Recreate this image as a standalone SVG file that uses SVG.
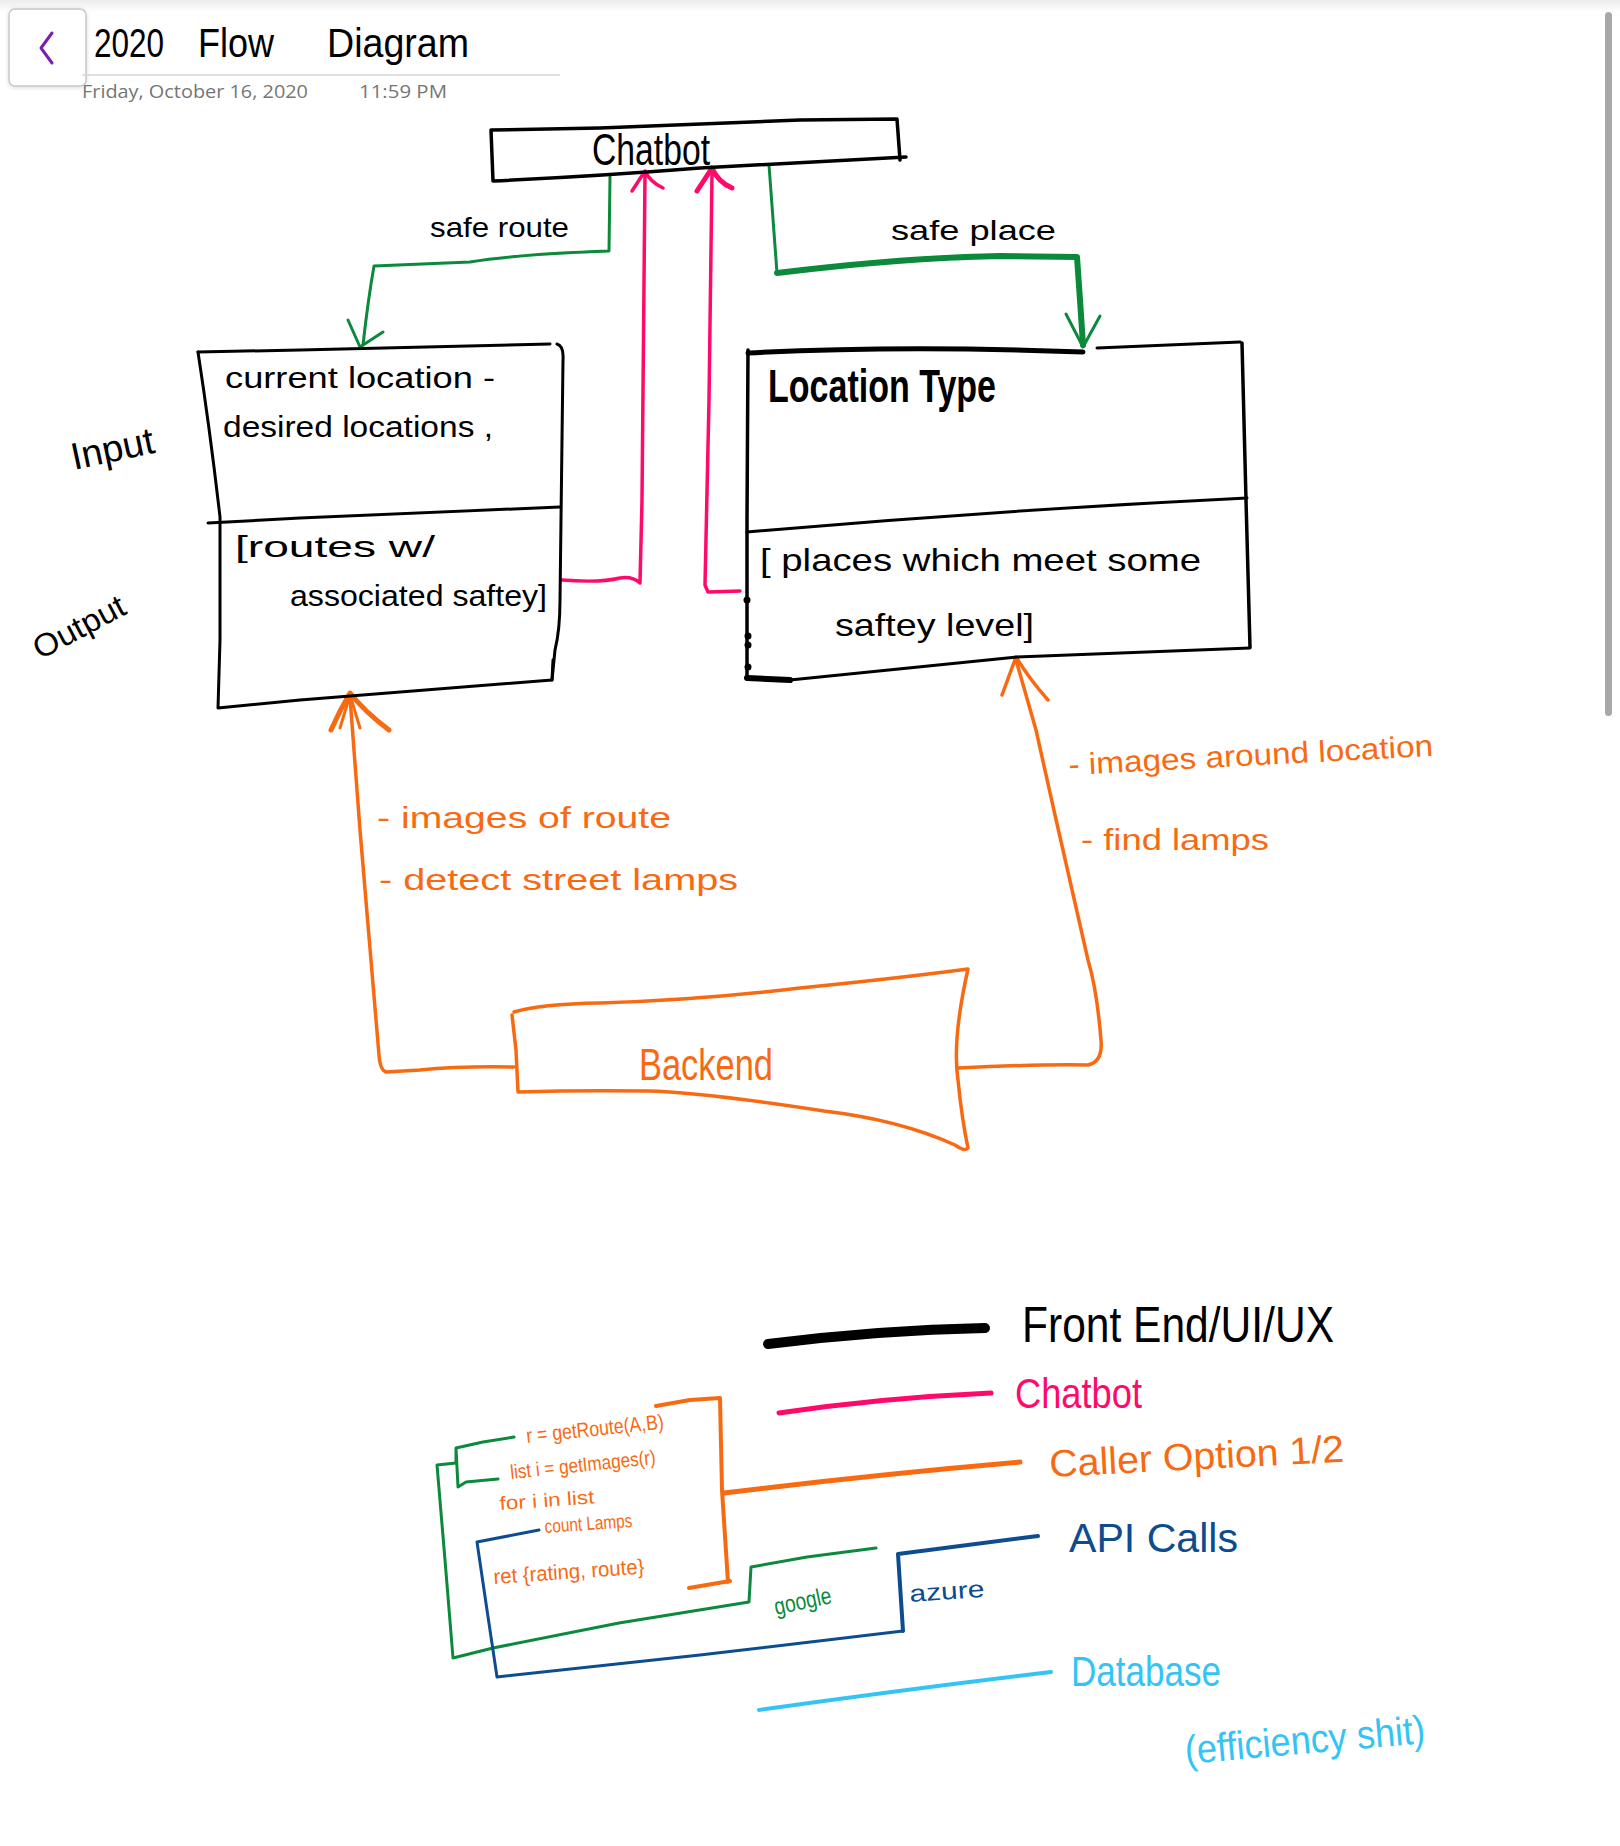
<svg xmlns="http://www.w3.org/2000/svg" width="1620" height="1846" viewBox="0 0 1620 1846">
<defs>
<linearGradient id="topfade" x1="0" y1="0" x2="0" y2="1"><stop offset="0" stop-color="#ececec"/><stop offset="1" stop-color="#ffffff"/></linearGradient>
<filter id="sh" x="-20%" y="-20%" width="140%" height="140%"><feDropShadow dx="0" dy="1" stdDeviation="2" flood-color="#000" flood-opacity="0.15"/></filter>
</defs>
<style>
.hw{font-family:"Liberation Sans","DejaVu Sans",sans-serif;}
.k{stroke:#000;fill:none;stroke-linecap:round;stroke-linejoin:round;}
.g{stroke:#0b8a3c;fill:none;stroke-linecap:round;stroke-linejoin:round;}
.p{stroke:#ff0a6a;fill:none;stroke-linecap:round;stroke-linejoin:round;}
.o{stroke:#f86a12;fill:none;stroke-linecap:round;stroke-linejoin:round;}
.b{stroke:#0d4c8f;fill:none;stroke-linecap:round;stroke-linejoin:round;}
.lb{stroke:#33c4f5;fill:none;stroke-linecap:round;stroke-linejoin:round;}
.tk{fill:#000;}
.tg{fill:#0b8a3c;}
.tp{fill:#ff0a6a;}
.to{fill:#f86a12;}
.tb{fill:#0d4c8f;}
.tl{fill:#33c4f5;}
</style>
<rect x="0" y="0" width="1620" height="1846" fill="#ffffff"/>
<rect x="0" y="0" width="1620" height="12" fill="url(#topfade)"/>
<rect x="1605" y="12" width="7" height="704" rx="3.5" fill="#a8a8a8"/>

<g id="header">
<rect x="9" y="9" width="77" height="77" rx="6" fill="#ffffff" stroke="#c8c8c8" stroke-width="1.5" filter="url(#sh)"/>
<path d="M52,33 L41,48 L52,63" fill="none" stroke="#7a1fb0" stroke-width="3" stroke-linecap="round" stroke-linejoin="round"/>
<text class="hw tk" y="57" font-size="40"><tspan x="94" textLength="70" lengthAdjust="spacingAndGlyphs">2020</tspan><tspan x="198" textLength="76" lengthAdjust="spacingAndGlyphs">Flow</tspan><tspan x="327" textLength="142" lengthAdjust="spacingAndGlyphs">Diagram</tspan></text>
<line x1="82" y1="75" x2="560" y2="75" stroke="#d4d4d4" stroke-width="1.5"/>
<text x="82" y="98" font-family="Segoe UI,'Open Sans','Noto Sans',sans-serif" font-size="18" fill="#767676" textLength="226" lengthAdjust="spacingAndGlyphs">Friday, October 16, 2020</text>
<text x="359" y="98" font-family="'Open Sans','Noto Sans',sans-serif" font-size="18" fill="#767676" textLength="88" lengthAdjust="spacingAndGlyphs">11:59 PM</text>
</g>

<g id="connectors">
<!-- safe route (green) -->
<path class="g" stroke-width="3" d="M610,177 L609,251 Q520,254 470,262 L374,266 Q368,300 363,345"/>
<path class="g" stroke-width="3" d="M348,320 L360,347 L383,332"/>
<!-- safe place (green) -->
<path class="g" stroke-width="3" d="M769,165 L777,273"/>
<path class="g" stroke-width="6" d="M777,273 Q900,258 1000,256 L1077,257 L1080,300 L1083,345"/>
<path class="g" stroke-width="3" d="M1066,314 L1083,347 L1100,316"/>
<!-- pink route -> chatbot -->
<path class="p" stroke-width="3.5" d="M562,580 Q600,583 620,578 Q632,576 640,583 L642,500 L645,174"/>
<path class="p" stroke-width="3.5" d="M632,191 L645,171 Q650,182 663,188"/>
<!-- pink place -> chatbot -->
<path class="p" stroke-width="3.5" d="M740,591 L708,592 L705,585 L709,400 L712,174"/>
<path class="p" stroke-width="5" d="M697,191 L712,168 Q718,182 732,188"/>
<!-- orange backend -> route box -->
<path class="o" stroke-width="3.5" d="M514,1067 Q460,1066 420,1070 L386,1072 Q380,1070 379,1055 L360,830 L350,697"/>
<path class="o" stroke-width="5" d="M331,730 Q340,710 350,693 Q365,712 389,730"/>
<path class="o" stroke-width="3" d="M340,728 L350,695 L360,728"/>
<!-- orange backend -> location box -->
<path class="o" stroke-width="3.5" d="M958,1068 Q1040,1064 1088,1065 Q1103,1062 1101,1040 Q1097,990 1088,960 Q1070,880 1055,815 L1036,730 L1016,660"/>
<path class="o" stroke-width="3.5" d="M1002,695 L1016,657 Q1030,680 1048,700"/>
</g>

<g id="chatbot">
<path class="k" stroke-width="3.5" d="M491,130 L600,128 Q700,124 800,120 L897,119 L900,160 M491,130 L493,181 Q600,176 700,168 L906,157"/>
<text class="hw tk" x="592" y="165" font-size="44" textLength="118" lengthAdjust="spacingAndGlyphs">Chatbot</text>
</g>

<g id="edge-labels">
<text class="hw tk" x="430" y="237" font-size="28" textLength="139" lengthAdjust="spacingAndGlyphs">safe route</text>
<text class="hw tk" x="891" y="240" font-size="28" textLength="165" lengthAdjust="spacingAndGlyphs">safe place</text>
</g>

<g id="route-box">
<path class="k" stroke-width="3" d="M198,352 L300,350 L550,344"/>
<path class="k" stroke-width="3" d="M198,352 Q210,430 220,517 L220,640 L218,708 L300,700 L552,680 L553,660"/>
<path class="k" stroke-width="3" d="M557,344 Q564,346 563,360 L561,520 L560,600 Q560,630 555,650 L552,680"/>
<path class="k" stroke-width="3" d="M208,523 L300,518 L560,507"/>
<text class="hw tk" x="225" y="388" font-size="30" textLength="270" lengthAdjust="spacingAndGlyphs">current  location -</text>
<text class="hw tk" x="223" y="437" font-size="30" textLength="270" lengthAdjust="spacingAndGlyphs">desired  locations ,</text>
<text class="hw tk" x="235" y="557" font-size="30" textLength="200" lengthAdjust="spacingAndGlyphs">[routes  w/</text>
<text class="hw tk" x="290" y="606" font-size="30" textLength="257" lengthAdjust="spacingAndGlyphs">associated  saftey]</text>
</g>

<g id="location-box">
<path class="k" stroke-width="5" d="M748,353 Q900,345 1083,352"/>
<path class="k" stroke-width="3" d="M1097,348 L1240,342"/>
<path class="k" stroke-width="3.5" d="M1242,343 L1246,500 L1250,647"/>
<path class="k" stroke-width="3.5" d="M748,350 L747,520 L747,677"/>
<path class="k" stroke-width="3" d="M747,532 Q1000,510 1247,498"/>
<path class="k" stroke-width="6" d="M747,678 L790,680"/>
<path class="k" stroke-width="3" d="M790,680 L1017,657 L1250,648"/>
<circle cx="747" cy="600" r="3.5" fill="#000"/>
<circle cx="748" cy="636" r="3.5" fill="#000"/>
<circle cx="748" cy="645" r="3.5" fill="#000"/>
<circle cx="748" cy="667" r="3.5" fill="#000"/>
<text class="hw tk" x="768" y="402" font-size="46" font-weight="bold" textLength="228" lengthAdjust="spacingAndGlyphs">Location Type</text>
<text class="hw tk" x="760" y="571" font-size="32" textLength="441" lengthAdjust="spacingAndGlyphs">[ places  which  meet  some</text>
<text class="hw tk" x="835" y="636" font-size="32" textLength="199" lengthAdjust="spacingAndGlyphs">saftey  level]</text>
</g>

<g id="io-labels">
<text class="hw tk" x="74" y="470" font-size="38" textLength="84" lengthAdjust="spacingAndGlyphs" transform="rotate(-12 74 470)">Input</text>
<text class="hw tk" x="40" y="660" font-size="32" textLength="100" lengthAdjust="spacingAndGlyphs" transform="rotate(-28 40 660)">Output</text>
</g>

<g id="backend">
<path class="o" stroke-width="3.5" d="M514,1012 Q540,1004 600,1003 Q700,1000 800,988 Q900,978 968,969 Q952,1040 958,1080 Q962,1120 968,1148 Q965,1152 955,1145 Q900,1120 824,1111 Q700,1092 648,1091 Q580,1090 518,1092 L516,1050 L512,1015"/>
<text class="hw to" x="639" y="1080" font-size="44" textLength="134" lengthAdjust="spacingAndGlyphs">Backend</text>
</g>

<g id="orange-notes">
<text class="hw to" x="377" y="828" font-size="30" textLength="294" lengthAdjust="spacingAndGlyphs">- images  of  route</text>
<text class="hw to" x="379" y="890" font-size="30" textLength="359" lengthAdjust="spacingAndGlyphs">- detect   street  lamps</text>
<text class="hw to" x="1069" y="775" font-size="30" textLength="365" lengthAdjust="spacingAndGlyphs" transform="rotate(-3 1069 775)">- images  around  location</text>
<text class="hw to" x="1081" y="850" font-size="30" textLength="188" lengthAdjust="spacingAndGlyphs">- find  lamps</text>
</g>

<g id="legend">
<path class="k" stroke-width="10" d="M768,1344 Q880,1330 985,1328"/>
<text class="hw tk" x="1022" y="1342" font-size="50" textLength="312" lengthAdjust="spacingAndGlyphs">Front End/UI/UX</text>
<path class="p" stroke-width="5" d="M779,1413 Q880,1398 991,1393"/>
<text class="hw tp" x="1015" y="1408" font-size="42" textLength="127" lengthAdjust="spacingAndGlyphs">Chatbot</text>
<path class="o" stroke-width="5" d="M724,1493 Q870,1475 1020,1462"/>
<text class="hw to" x="1050" y="1477" font-size="38" textLength="295" lengthAdjust="spacingAndGlyphs" transform="rotate(-3 1050 1477)">Caller  Option  1/2</text>
<path class="b" stroke-width="4" d="M903,1631 L898,1554 L1038,1536"/>
<text class="hw tb" x="1069" y="1552" font-size="40" textLength="169" lengthAdjust="spacingAndGlyphs">API  Calls</text>
<path class="lb" stroke-width="4" d="M759,1710 Q900,1690 1051,1672"/>
<text class="hw tl" x="1071" y="1686" font-size="42" textLength="150" lengthAdjust="spacingAndGlyphs">Database</text>
<text class="hw tl" x="1186" y="1764" font-size="40" textLength="241" lengthAdjust="spacingAndGlyphs" transform="rotate(-5 1186 1764)">(efficiency  shit)</text>
</g>

<g id="code-box">
<path class="o" stroke-width="4" d="M656,1406 L690,1400 L720,1398 L722,1490 L728,1582 M689,1588 L730,1581"/>
<path class="g" stroke-width="3" d="M483,1442 L514,1437 M456,1463 L456,1448 L483,1442 M456,1448 L458,1487 L466,1482 L498,1479"/>
<path class="g" stroke-width="3" d="M456,1463 L437,1465 L445,1560 L453,1658 L493,1648 L619,1623 L749,1602 L751,1567 L807,1557 L876,1548"/>
<path class="b" stroke-width="3" d="M539,1530 L477,1542 L487,1610 L497,1677 L700,1655 L903,1631"/>
<text class="hw to" x="527" y="1443" font-size="21" textLength="138" lengthAdjust="spacingAndGlyphs" transform="rotate(-6 527 1443)">r = getRoute(A,B)</text>
<text class="hw to" x="511" y="1479" font-size="20" textLength="146" lengthAdjust="spacingAndGlyphs" transform="rotate(-6 511 1479)">list i = getImages(r)</text>
<text class="hw to" x="500" y="1510" font-size="19" textLength="95" lengthAdjust="spacingAndGlyphs" transform="rotate(-4 500 1510)">for i in list</text>
<text class="hw to" x="545" y="1533" font-size="19" textLength="88" lengthAdjust="spacingAndGlyphs" transform="rotate(-4 545 1533)">count Lamps</text>
<text class="hw to" x="494" y="1584" font-size="21" textLength="151" lengthAdjust="spacingAndGlyphs" transform="rotate(-4 494 1584)">ret {rating, route}</text>
<text class="hw tg" x="776" y="1615" font-size="24" textLength="58" lengthAdjust="spacingAndGlyphs" transform="rotate(-12 776 1615)">google</text>
<text class="hw tb" x="910" y="1602" font-size="24" textLength="75" lengthAdjust="spacingAndGlyphs" transform="rotate(-4 910 1602)">azure</text>
</g>
</svg>
